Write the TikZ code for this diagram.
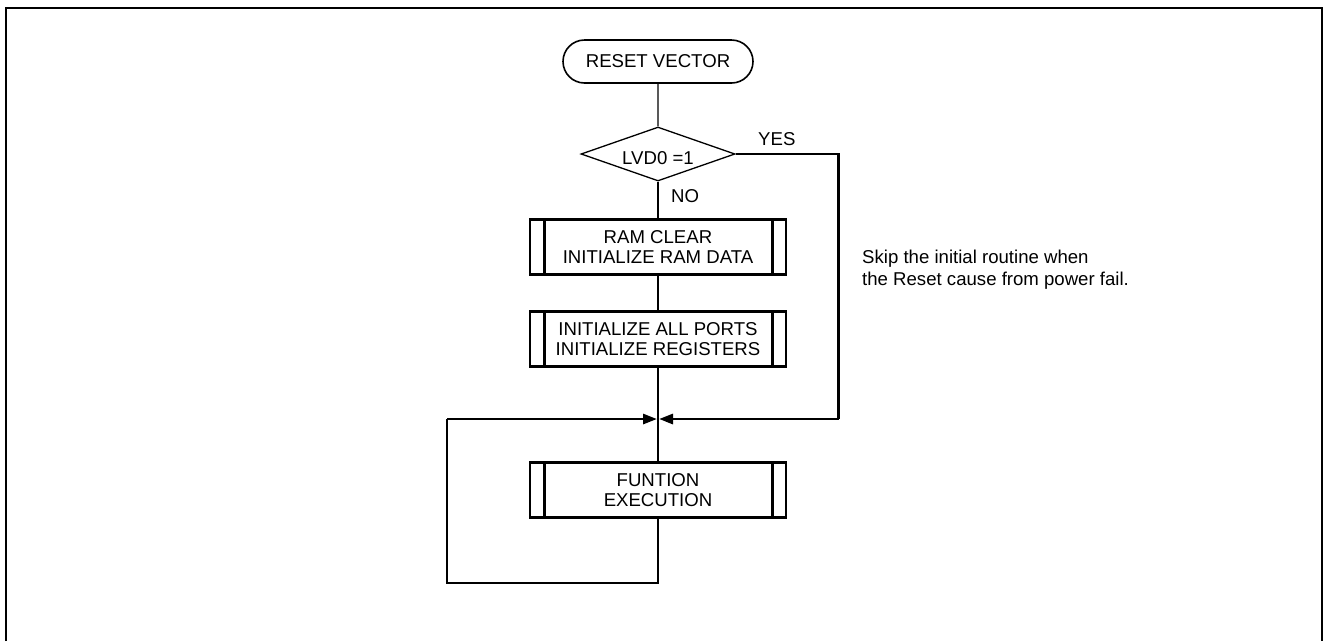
\documentclass[tikz,border=0pt]{standalone}
\usepackage{fontspec}
\setmainfont{Liberation Sans}
\usetikzlibrary{arrows.meta,shapes.geometric,shapes.misc}
\tikzset{
  every node/.style={font=\fontsize{18.6}{20}\selectfont, inner sep=0pt},
  procbox/.style={draw, line width=2.8pt, rectangle, minimum width=256, minimum height=55, align=center},
  term/.style={draw, line width=1.6pt, rounded rectangle, minimum width=190, minimum height=43},
  decision/.style={draw, line width=1.3pt, diamond, minimum width=154, minimum height=54, aspect=2.85},
  thin/.style={line width=1.3pt},
  thick/.style={line width=2.8pt},
  tip/.style={-{Triangle[length=14pt,width=10pt]}}
}
\begin{document}
\begin{tikzpicture}[x=1pt,y=-1pt]
\useasboundingbox (0,0) rectangle (1323,641);
% outer frame
\draw[line width=1.3pt] (6,641) -- (6,8) -- (1322,8) -- (1322,641);

\node[term] (reset) at (658,61.5) {RESET VECTOR};
\node[decision] (dec) at (658,154) {};
\node (declab) at (658,158) {LVD0 =1};
\node[procbox] (ram) at (658,247) {RAM CLEAR\\INITIALIZE RAM DATA};
\node[procbox] (init) at (658,339) {INITIALIZE ALL PORTS\\INITIALIZE REGISTERS};
\node[procbox] (fun) at (658,490) {FUNTION\\EXECUTION};

\foreach \b in {ram,init,fun}{
  \draw[line width=2.8pt] ([xshift=16]\b.north west) -- ([xshift=16]\b.south west);
  \draw[line width=2.8pt] ([xshift=-15]\b.north east) -- ([xshift=-15]\b.south east);
}

\node[anchor=base west] (yes) at (758,145) {YES};
\node[anchor=base west] (no) at (671,202) {NO};
\node[anchor=base west, align=left] (note) at (862,263) {Skip the initial routine when};
\node[anchor=base west, align=left] (note2) at (862,285) {the Reset cause from power fail.};

\coordinate (j) at (658,419);
\coordinate (rc) at (838.5,154);
\coordinate (rb) at (838.5,419);
\coordinate (lb) at (447,583);
\coordinate (lt) at (447,419);
\coordinate (fb) at (658,583);

\draw[thin] (reset) -- (dec);
\draw[thin] (dec.south) -- (ram.north);
\draw[thin] (ram.south) -- (init.north);
\draw[thin] (init.south) -- (fun.north);
\draw[thick] (dec.east) -- (rc) -- (rb);
\draw[thick,tip] (rb) -- ([xshift=1]j);
\draw[thick] (fun.south) -- (fb) -- (lb) -- (lt);
\draw[thick,tip] (lt) -- ([xshift=-1]j);
\end{tikzpicture}
\end{document}
